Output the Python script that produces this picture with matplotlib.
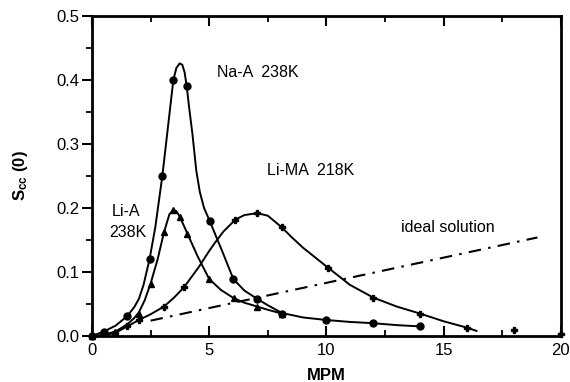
import matplotlib
matplotlib.use("Agg")
import matplotlib.pyplot as plt
from matplotlib.ticker import MultipleLocator

plt.rcParams['font.family'] = ['Liberation Sans', 'DejaVu Sans']
plt.rcParams['mathtext.fontset'] = 'custom'
plt.rcParams['mathtext.rm'] = 'Liberation Sans'
plt.rcParams['mathtext.bf'] = 'Liberation Sans:bold'

na_x = [0, 0.5, 1.5, 2.46, 3.0, 3.47, 4.04, 5.03, 6.03, 7.05, 8.1, 10.0, 12.0, 14.0]
na_y = [0, 0.007, 0.031, 0.121, 0.25, 0.40, 0.39, 0.179, 0.089, 0.058, 0.035, 0.025, 0.020, 0.015]
na_cx = [0, 0.5, 1.0, 1.5, 1.8, 2.0, 2.2, 2.46, 2.7, 3.0, 3.21, 3.47, 3.6, 3.74, 3.85,
         3.95, 4.04, 4.15, 4.28, 4.45, 4.6, 4.78, 5.03, 5.3, 5.56, 6.03, 6.5, 7.05, 7.5,
         8.1, 9.0, 10.0, 11.0, 12.0, 13.0, 14.0]
na_cy = [0, 0.007, 0.016, 0.031, 0.045, 0.058, 0.080, 0.121, 0.17, 0.25, 0.317, 0.40,
         0.419, 0.426, 0.424, 0.412, 0.39, 0.355, 0.317, 0.258, 0.225, 0.200, 0.179,
         0.155, 0.132, 0.089, 0.071, 0.058, 0.048, 0.036, 0.029, 0.025, 0.022, 0.020,
         0.017, 0.015]

# Li-A 238K
lia_x = [0, 1.0, 2.0, 2.5, 3.07, 3.47, 3.75, 4.07, 5.0, 6.05, 7.05, 8.1]
lia_y = [0, 0.007, 0.035, 0.082, 0.162, 0.197, 0.186, 0.160, 0.089, 0.059, 0.046, 0.035]
lia_cx = [0, 0.5, 1.0, 1.5, 1.8, 2.0, 2.25, 2.5, 2.8, 3.07, 3.3, 3.47, 3.6, 3.75, 4.07,
          4.5, 5.0, 5.5, 6.05, 6.5, 7.05, 7.5, 8.1]
lia_cy = [0, 0.002, 0.007, 0.018, 0.028, 0.037, 0.056, 0.082, 0.12, 0.162, 0.19, 0.197,
          0.195, 0.186, 0.160, 0.125, 0.089, 0.072, 0.059, 0.052, 0.046, 0.041, 0.035]

# Li-MA 218K
lima_x = [1.0, 1.5, 2.0, 3.07, 3.92, 6.12, 7.05, 8.09, 10.06, 12.0, 14.0, 16.0, 18.0, 20.0]
lima_y = [0.005, 0.015, 0.025, 0.046, 0.076, 0.182, 0.192, 0.170, 0.107, 0.060, 0.035,
          0.013, 0.009, 0.003]
lima_cx = [0.5, 1.0, 1.5, 2.0, 2.5, 3.07, 3.5, 3.92, 4.56, 5.0, 5.27, 5.6, 6.12, 6.5,
           7.05, 7.5, 8.09, 8.5, 9.0, 10.06, 11.0, 12.0, 13.0, 14.0, 15.0, 16.0, 16.4]
lima_cy = [0.001, 0.005, 0.015, 0.025, 0.034, 0.046, 0.06, 0.076, 0.108, 0.133, 0.147,
           0.163, 0.182, 0.189, 0.192, 0.188, 0.170, 0.155, 0.138, 0.107, 0.080, 0.060,
           0.046, 0.035, 0.023, 0.013, 0.008]

# ideal solution line
ideal_x = [2.5, 19.0]
ideal_y = [0.024, 0.154]

fig = plt.figure(figsize=(5.7, 3.82), dpi=100)
ax = fig.add_axes([0.1614, 0.1204, 0.8226, 0.8376])

lw = 1.4
ax.plot(na_cx, na_cy, color='black', lw=lw)
ax.plot(na_x, na_y, 'o', color='black', ms=5, clip_on=False, zorder=5)
ax.plot(lia_cx, lia_cy, color='black', lw=lw)
ax.plot(lia_x, lia_y, '^', color='black', ms=5, clip_on=False, zorder=5)
ax.plot(lima_cx, lima_cy, color='black', lw=lw)
ax.plot(lima_x, lima_y, 'P', color='black', ms=5, clip_on=False, zorder=5)
ax.plot(ideal_x, ideal_y, color='black', lw=1.5, dashes=[6, 3.5, 1.2, 3.5])

tfs = 11.5
ax.text(5.33, 0.411, 'Na-A  238K', fontsize=tfs, va='center')
ax.text(7.46, 0.259, 'Li-MA  218K', fontsize=tfs, va='center')
ax.text(0.85, 0.194, 'Li-A', fontsize=tfs, va='center')
ax.text(0.75, 0.162, '238K', fontsize=tfs, va='center')
ax.text(13.2, 0.169, 'ideal solution', fontsize=tfs, va='center')

ax.set_xlim(0, 20)
ax.set_ylim(0, 0.5)
ax.xaxis.set_major_locator(MultipleLocator(5))
ax.xaxis.set_minor_locator(MultipleLocator(2.5))
ax.yaxis.set_major_locator(MultipleLocator(0.1))
ax.yaxis.set_minor_locator(MultipleLocator(0.05))
ax.yaxis.set_major_formatter(plt.FormatStrFormatter('%.1f'))
ax.tick_params(axis='x', which='both', direction='in', top=True, labelsize=12, pad=5)
ax.tick_params(axis='x', which='major', length=7, width=1.5)
ax.tick_params(axis='x', which='minor', length=4, width=1.3)
ax.tick_params(axis='y', which='both', direction='out', right=False, labelsize=12, pad=2)
ax.tick_params(axis='y', which='major', length=7, width=1.5)
ax.tick_params(axis='y', which='minor', length=4, width=1.3)
for s in ax.spines.values():
    s.set_linewidth(2.0)

ax.set_xlabel('MPM', fontsize=12, fontweight='bold', labelpad=7)
ax.set_ylabel(r'$\mathbf{S_{cc}}$ (0)', fontsize=12, fontweight='bold', labelpad=19)

plt.savefig('out.png', dpi=100)
